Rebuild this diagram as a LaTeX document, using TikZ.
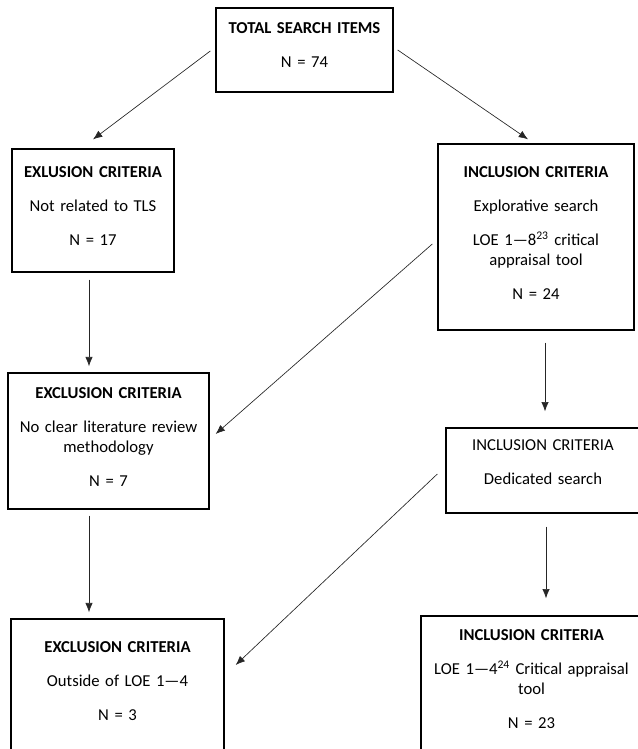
\documentclass[tikz,border=0pt]{standalone}
\usepackage{fontspec}
\setmainfont{Carlito}
\usetikzlibrary{arrows.meta,calc}

\begin{document}
\begin{tikzpicture}[
    box/.style={draw, line width=1pt, inner sep=0pt, align=center, anchor=base,
                font=\fontsize{12.5}{15.25}\selectfont},
    arr/.style={draw=black!85, line width=0.5pt, -{Latex[length=7pt,width=5.5pt]}},
    x=0.75pt,
    y=-0.75pt]

    \clip (0,0) rectangle (638,749);

    % Top
    \node[box, text width=132.75pt, text height=19pt, text depth=44pt] (T) at (304.5,33.3)
      {\textbf{TOTAL SEARCH ITEMS}\\[10.25pt] N = 74};

    % Exclusion side
    \node[box, text width=121.5pt, text height=21.2pt, text depth=71pt] (E1) at (93,177.3)
      {\textbf{EXLUSION CRITERIA}\\[10.25pt] Not related to TLS\\[10.25pt] N = 17};
    \node[box, text width=150.75pt, text height=19pt, text depth=83pt] (E2) at (108.5,398.3)
      {\textbf{EXCLUSION CRITERIA}\\[10.25pt] No clear literature review\\ methodology\\[10.25pt] N = 7};
    \node[box, text width=159.75pt, text height=25pt, text depth=95.8pt] (E3) at (117.5,652.3)
      {\textbf{EXCLUSION CRITERIA}\\[10.25pt] Outside of LOE 1---4\\[10.25pt] N = 3};

    % Inclusion side
    \node[box, text width=147pt, text height=25pt, text depth=114.5pt] (I1) at (536,177.3)
      {\textbf{INCLUSION CRITERIA}\\[10.25pt] Explorative search\\[10.25pt]
       LOE 1---8\textsuperscript{23} critical\\ appraisal tool\\[10.25pt] N = 24};
    \node[box, text width=145.5pt, text height=16.7pt, text depth=47pt] (I2) at (543,450.3)
      {INCLUSION CRITERIA\\[10.25pt] Dedicated search};
    \node[box, text width=165.75pt, text height=18.2pt, text depth=104.8pt] (I3) at (531.5,640.3)
      {\textbf{INCLUSION CRITERIA}\\[10.25pt] LOE 1---4\textsuperscript{24} Critical appraisal\\ tool\\[10.25pt] N = 23};

    % Arrows
    \draw[arr] ($(T.west)+(-5,1)$) -- ($(E1.north)+(0,-9)$);
    \draw[arr] ($(T.east)+(4,0)$) -- ($(I1.north)+(-8,-4)$);
    \draw[arr] ($(E1.south)+(-4,7)$) -- ($(E2.north)+(-19.5,-6)$);
    \draw[arr] ($(I1.west)+(-5,7)$) -- ($(E2.east)+(6,-7)$);
    \draw[arr] ($(I1.south)+(9,12)$) -- ($(I2.north)+(2,-16)$);
    \draw[arr] ($(I2.west)+(-8,3.5)$) -- ($(E3.east)+(11,-34.5)$);
    \draw[arr] ($(E2.south)+(-19.5,6)$) -- ($(E3.north)+(-28.5,-6)$);
    \draw[arr] ($(I2.south)+(3,13)$) -- ($(I3.north)+(14.5,-17)$);
\end{tikzpicture}
\end{document}
